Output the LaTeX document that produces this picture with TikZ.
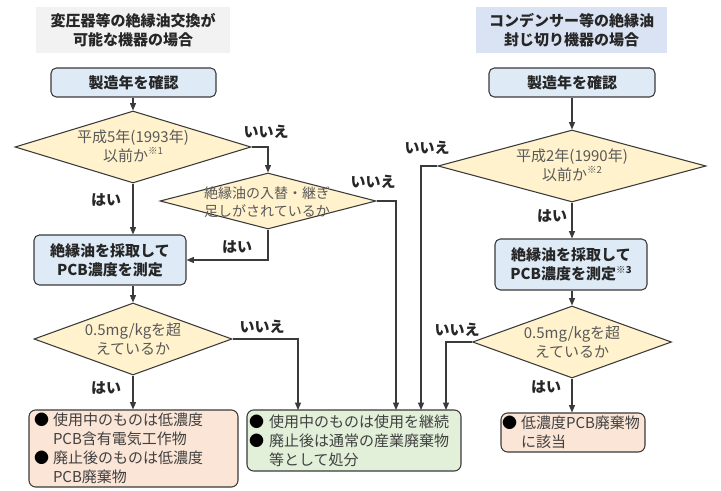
\documentclass[tikz,border=0pt]{standalone}
\usepackage{fontspec}
\setmainfont{Noto Sans CJK JP}
\usetikzlibrary{shapes.geometric,arrows.meta}
\definecolor{bd}{HTML}{3A3A3A}
\definecolor{lnc}{HTML}{3A3A3A}
\definecolor{grayf}{HTML}{F2F2F2}
\definecolor{titlebf}{HTML}{DAE3F3}
\definecolor{bluef}{HTML}{DEEBF7}
\definecolor{diaf}{HTML}{FFF2CC}
\definecolor{orf}{HTML}{FBE5D6}
\definecolor{grf}{HTML}{E2F0D9}
\definecolor{tb}{HTML}{262626}
\definecolor{dt}{HTML}{595959}
\definecolor{bt}{HTML}{404040}
\def\pxl{0.75pt}
\newlength\pxd \setlength\pxd{0.75pt}
\newcommand\fsz{\fontsize{11.25}{14.25}\selectfont}
\newcommand\sups[1]{\raisebox{0.42em}{\fontsize{7.2}{7.2}\selectfont #1}}
\newcommand\bul[1]{\makebox[#1][l]{\textcolor{black}{●}}}
\begin{document}
\begin{tikzpicture}[x=0.75pt,y=-0.75pt,
  titlebox/.style={inner sep=0, align=center, font=\fsz\bfseries, text=tb},
  bluebox/.style={draw=bd, fill=bluef, rounded corners=4pt, line width=0.8pt, inner sep=0, align=center, font=\fsz\bfseries, text=tb},
  dia/.style={diamond, draw=bd, fill=diaf, line width=0.8pt, inner sep=0},
  dtext/.style={inner sep=0, align=center, font=\fsz, text=dt},
  resbox/.style={draw=bd, rounded corners=5pt, line width=0.8pt, align=left, font=\fsz, text=bt, inner ysep=0},
  lab/.style={inner sep=0, font=\fsz\bfseries, text=tb},
  conn/.style={draw=lnc, line width=0.8pt},
  arr/.style={conn, -{Triangle[length=5.5pt,width=4.5pt]}}]
\useasboundingbox (0,0) rectangle (721,491);
% titles
\node[titlebox, fill=grayf, minimum width=194*\pxl, minimum height=46*\pxl] (tL) at (133,30) {変圧器等の絶縁油交換が\\可能な機器の場合};
\node[titlebox, fill=titlebf, minimum width=191*\pxl, minimum height=46*\pxl] (tR) at (571.5,30) {コンデンサー等の絶縁油\\封じ切り機器の場合};
% left column
\node[bluebox, minimum width=165*\pxl, minimum height=29*\pxl] (sL) at (133.5,82.5) {製造年を確認};
\node[dia, minimum width=236*\pxl, minimum height=72*\pxl] (d1) at (133,147) {};
\node[dtext] (d1t) at (133,146) {平成5年(1993年)\\以前か\sups{※1}};
\node[dia, minimum width=216*\pxl, minimum height=56*\pxl] (d2) at (268,201) {};
\node[dtext, font=\fontsize{10.5}{13.5}\selectfont] (d2t) at (267,202) {絶縁油の入替・継ぎ\\足しがされているか};
\node[bluebox, minimum width=152*\pxl, minimum height=50*\pxl] (mL) at (110,260) {絶縁油を採取して\\PCB濃度を測定};
\node[dia, minimum width=198*\pxl, minimum height=72*\pxl] (d3) at (133,339) {};
\node[dtext] (d3t) at (133,339) {0.5mg/kgを超\\えているか};
\node[resbox, fill=orf, minimum width=209*\pxl, minimum height=77*\pxl, text width=199*\pxl, inner xsep=5*\pxl] (oL) at (133.5,448.5)
  {\bul{19\pxd}使用中のものは低濃度\\\hspace*{19\pxd}PCB含有電気工作物\\\bul{19\pxd}廃止後のものは低濃度\\\hspace*{19\pxd}PCB廃棄物};
\node[resbox, fill=grf, minimum width=214*\pxl, minimum height=61*\pxl, text width=210*\pxl, inner xsep=2*\pxl] (g) at (354,440.5)
  {\bul{20\pxd}使用中のものは使用を継続\\\bul{20\pxd}廃止後は通常の産業廃棄物\\\hspace*{20\pxd}等として処分};
% right column
\node[bluebox, minimum width=166*\pxl, minimum height=29*\pxl] (sR) at (572,82.5) {製造年を確認};
\node[dia, minimum width=268*\pxl, minimum height=72*\pxl] (d4) at (572,166) {};
\node[dtext] (d4t) at (572,165) {平成2年(1990年)\\以前か\sups{※2}};
\node[bluebox, minimum width=152*\pxl, minimum height=51*\pxl] (mR) at (571,264.5) {絶縁油を採取して\\PCB濃度を測定\sups{※3}};
\node[dia, minimum width=199*\pxl, minimum height=72*\pxl] (d5) at (572,342) {};
\node[dtext] (d5t) at (572,342) {0.5mg/kgを超\\えているか};
\node[resbox, fill=orf, minimum width=144*\pxl, minimum height=39*\pxl, text width=142*\pxl, inner xsep=1*\pxl] (oR) at (573,432.5)
  {\bul{19\pxd}低濃度PCB廃棄物\\\hspace*{19\pxd}に該当};
% entry points on green box
\coordinate (g1) at (298,410);
\coordinate (g2) at (396,410);
\coordinate (g3) at (421,410);
\coordinate (g4) at (446,410);
% connectors
\draw[arr] (d1.north |- sL.south) -- (d1.north);
\draw[arr] (d1.east) -| (d2.north);
\draw[arr] (d1.south) -- (d1.south |- mL.north);
\draw[arr] (d2.east) -| (g2);
\draw[arr] (d2.south) |- (mL.east);
\draw[arr] (d3.north |- mL.south) -- (d3.north);
\draw[arr] (d3.east) -| (g1);
\draw[arr] (d3.south) -- (d3.south |- oL.north);
\draw[arr] (sR.south) -- (d4.north);
\draw[arr] (d4.west) -| (g3);
\draw[arr] (d4.south) -- (d4.south |- mR.north);
\draw[arr] (d5.north |- mR.south) -- (d5.north);
\draw[arr] (d5.west) -| (g4);
\draw[arr] (d5.south) -- (d5.south |- oR.north);
% labels
\node[lab] (l1) at (266,132) {いいえ};
\node[lab] (l2) at (373,182) {いいえ};
\node[lab] (l3) at (106,200) {はい};
\node[lab] (l4) at (237,247) {はい};
\node[lab] (l5) at (262,327) {いいえ};
\node[lab] (l6) at (106,388) {はい};
\node[lab] (l7) at (427,148) {いいえ};
\node[lab] (l8) at (552,216) {はい};
\node[lab] (l9) at (457,330) {いいえ};
\node[lab] (l10) at (546,387) {はい};
\end{tikzpicture}
\end{document}
